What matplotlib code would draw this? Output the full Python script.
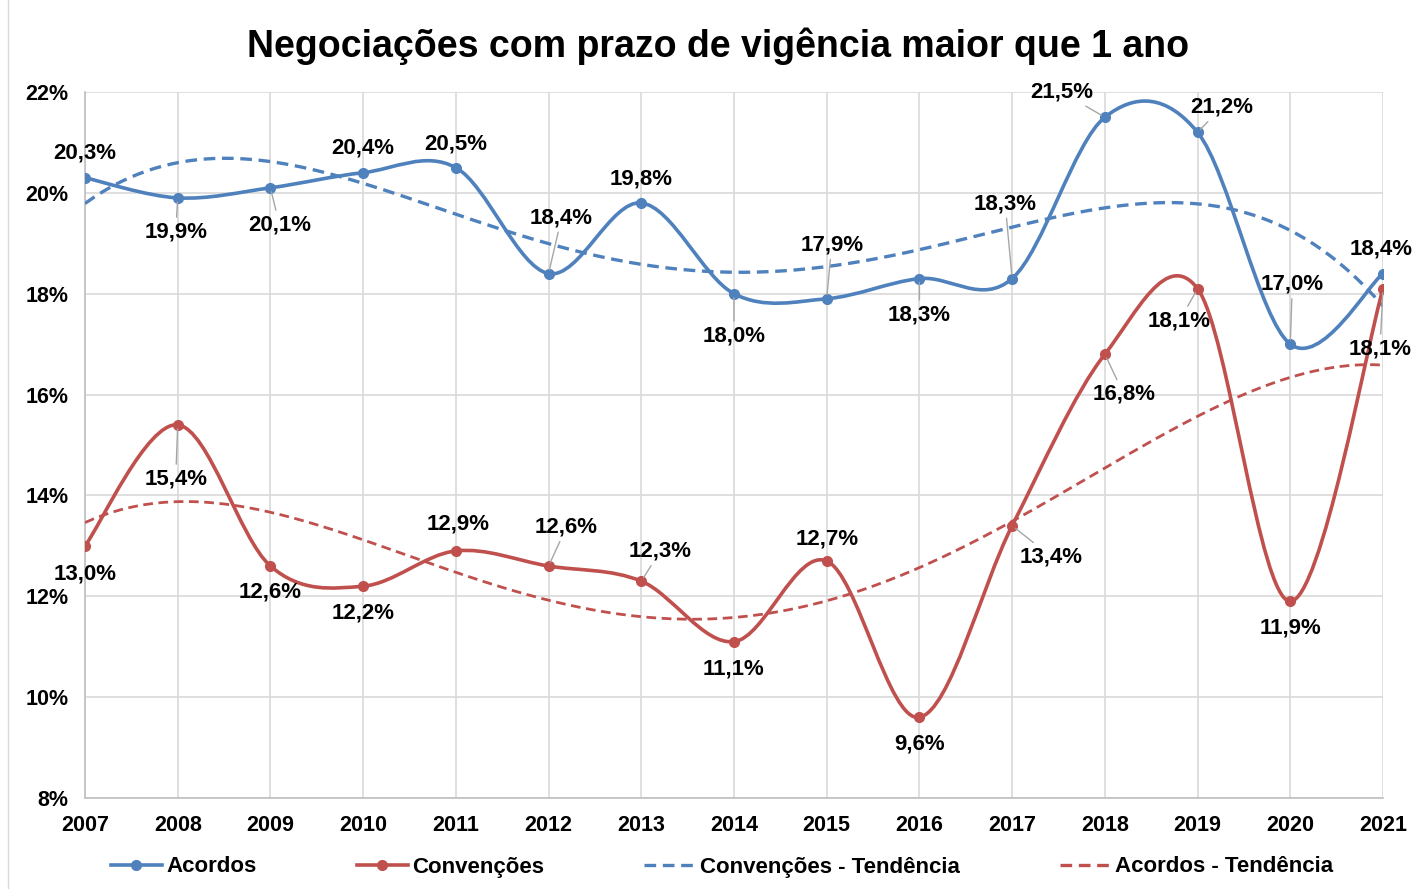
import numpy as np
import matplotlib.pyplot as plt
from matplotlib.path import Path
from matplotlib.patches import PathPatch
from matplotlib.lines import Line2D

anos = np.arange(2007, 2022)
acordos = [20.3, 19.9, 20.1, 20.4, 20.5, 18.4, 19.8, 18.0, 17.9, 18.3, 18.3, 21.5, 21.2, 17.0, 18.4]
convencoes = [13.0, 15.4, 12.6, 12.2, 12.9, 12.6, 12.3, 11.1, 12.7, 9.6, 13.4, 16.8, 18.1, 11.9, 18.1]

# label offsets in pixels (dx, dy), dy positive = up
off_acordos = [(0, 25), (-2, -34), (9, -37), (0, 25), (0, 24), (13, 56), (0, 24), (0, -42),
               (5, 54), (0, -36), (-7, 75), (-43, 25), (24, 25), (2, 60), (-2, 25)]
off_conv = [(0, -28), (-2, -54), (0, -26), (0, -27), (2, 27), (18, 39), (19, 30), (0, -27),
            (0, 22), (0, -27), (39, -31), (19, -40), (-18, -32), (0, -27), (-3, -60)]

azul = '#4F81BD'
verm = '#C0504D'
cinza = '#D9D9D9'

plt.rcParams['font.family'] = ['Liberation Sans', 'DejaVu Sans']
plt.rcParams['font.weight'] = 'bold'


def smooth_path(x, y):
    # catmull-rom style bezier, like excel smoothed lines
    x = np.asarray(x, float)
    y = np.asarray(y, float)
    n = len(x)
    verts = [(x[0], y[0])]
    codes = [Path.MOVETO]
    for i in range(n - 1):
        i0 = max(i - 1, 0)
        i3 = min(i + 2, n - 1)
        c1 = (x[i] + (x[i + 1] - x[i0]) / 6, y[i] + (y[i + 1] - y[i0]) / 6)
        c2 = (x[i + 1] - (x[i3] - x[i]) / 6, y[i + 1] - (y[i3] - y[i]) / 6)
        verts += [c1, c2, (x[i + 1], y[i + 1])]
        codes += [Path.CURVE4] * 3
    return Path(verts, codes)


fig = plt.figure(figsize=(14.13, 8.89), dpi=100)
ax = fig.add_axes([85 / 1413, 1 - 798 / 889, 1298 / 1413, 706 / 889])

# trend lines (polynomial fit, as in excel)
xf = np.linspace(anos[0], anos[-1], 300)
t = anos - 2006
tf = xf - 2006
pa = np.polyfit(t, acordos, 4)
pc = np.polyfit(t, convencoes, 4)
ax.plot(xf, np.polyval(pa, tf), color=azul, lw=2.4, ls=(0, (3.5, 2)), zorder=3)
ax.plot(xf, np.polyval(pc, tf), color=verm, lw=2.0, ls=(0, (3.5, 2)), zorder=3)

for vals, cor in [(acordos, azul), (convencoes, verm)]:
    ax.add_patch(PathPatch(smooth_path(anos, vals), fill=False, edgecolor=cor, lw=2.6,
                           zorder=4, capstyle='round'))
    ax.plot(anos, vals, 'o', color=cor, ms=7, zorder=5)

for vals, offs in [(acordos, off_acordos), (convencoes, off_conv)]:
    for x, v, (dx, dy) in zip(anos, vals, offs):
        lbl = ('%.1f%%' % v).replace('.', ',')
        lead = np.hypot(dx, dy) > 33
        ax.annotate(lbl, (x, v), xytext=(dx, dy), textcoords='offset pixels',
                    ha='center', va='center', fontsize=16, fontweight='bold',
                    annotation_clip=False, zorder=6,
                    arrowprops=dict(arrowstyle='-', color='#A6A6A6', lw=1,
                                    shrinkA=1, shrinkB=3) if lead else None)

ax.set_xlim(2007, 2021)
ax.set_ylim(8, 22)
ax.set_xticks(anos)
ax.set_xticklabels([str(a) for a in anos], fontsize=15.5, fontweight='bold')
ax.set_yticks(range(8, 23, 2))
ax.set_yticklabels(['%d%%' % v for v in range(8, 23, 2)], fontsize=15.5, fontweight='bold')
ax.tick_params(length=0, pad=12)
ax.tick_params(axis='x', pad=12)
ax.grid(True, color=cinza, lw=1.2)
ax.set_axisbelow(True)
for s in ['top', 'right']:
    ax.spines[s].set_visible(False)
for s in ['left', 'bottom']:
    ax.spines[s].set_color('#BFBFBF')
    ax.spines[s].set_linewidth(1.2)

fig.suptitle('Negociações com prazo de vigência maior que 1 ano', fontsize=27,
             fontweight='bold', x=718 / 1413, y=1 - 46 / 889, va='center')

handles = [
    Line2D([], [], color=azul, lw=2.6, marker='o', ms=7),
    Line2D([], [], color=verm, lw=2.6, marker='o', ms=7),
    Line2D([], [], color=azul, lw=2.4, ls=(0, (3.5, 2))),
    Line2D([], [], color=verm, lw=2.4, ls=(0, (3.5, 2))),
]
nomes = ['Acordos', 'Convenções', 'Convenções - Tendência', 'Acordos - Tendência']
fig.legend(handles, nomes, loc='center', bbox_to_anchor=(722 / 1413, 1 - 867 / 889), ncol=4,
           frameon=False, handlelength=2.3, handletextpad=0.2, columnspacing=4.5,
           prop=dict(size=16, weight='bold'))

fig.add_artist(Line2D([8 / 1413, 8 / 1413], [0, 1], color='#D9D9D9', lw=1))

fig.savefig('out.png', dpi=100)
